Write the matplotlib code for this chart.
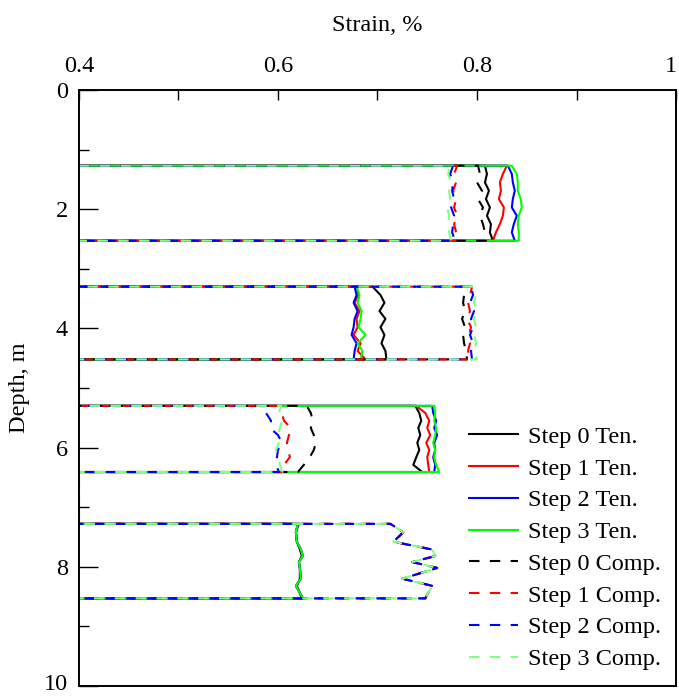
import numpy as np
import matplotlib
matplotlib.use("Agg")
import matplotlib.pyplot as plt
from matplotlib.ticker import MultipleLocator
from matplotlib.transforms import ScaledTranslation

# -----------------------------------------------------------------------------
#
# Depth of the sensor readings in each of the four instrumented zones
#
# -----------------------------------------------------------------------------
seg_depths = [
    [1.27, 1.41, 1.55, 1.69, 1.83, 1.97, 2.11, 2.25, 2.39, 2.53],
    [3.30, 3.44, 3.57, 3.71, 3.84, 3.98, 4.11, 4.25, 4.38, 4.52],
    [5.30, 5.42, 5.55, 5.67, 5.79, 5.92, 6.04, 6.16, 6.29, 6.41],
    [7.28, 7.42, 7.58, 7.71, 7.82, 7.92, 8.02, 8.20, 8.32, 8.53],
]
base_strain = 0.4

# -----------------------------------------------------------------------------
#
# Strain readings (%) per zone, tension side
#
# -----------------------------------------------------------------------------
ten_step0 = [
    [0.808, 0.810, 0.808, 0.812, 0.809, 0.813, 0.810, 0.814, 0.813, 0.816],
    [0.695, 0.703, 0.707, 0.702, 0.708, 0.703, 0.707, 0.704, 0.708, 0.709],
    [0.738, 0.742, 0.744, 0.741, 0.743, 0.740, 0.742, 0.739, 0.736, 0.745],
    [0.621, 0.618, 0.619, 0.622, 0.624, 0.621, 0.622, 0.622, 0.619, 0.624],
]
ten_step1 = [
    [0.830, 0.826, 0.823, 0.824, 0.822, 0.827, 0.826, 0.823, 0.819, 0.816],
    [0.679, 0.681, 0.677, 0.682, 0.679, 0.680, 0.676, 0.683, 0.680, 0.688],
    [0.739, 0.748, 0.752, 0.750, 0.753, 0.749, 0.752, 0.750, 0.751, 0.752],
    [0.620, 0.618, 0.619, 0.623, 0.625, 0.621, 0.622, 0.623, 0.618, 0.625],
]
ten_step2 = [
    [0.831, 0.835, 0.836, 0.838, 0.836, 0.835, 0.840, 0.837, 0.835, 0.838],
    [0.677, 0.679, 0.676, 0.680, 0.677, 0.676, 0.674, 0.679, 0.677, 0.676],
    [0.755, 0.756, 0.759, 0.757, 0.760, 0.757, 0.758, 0.756, 0.758, 0.757],
    [0.620, 0.618, 0.619, 0.623, 0.625, 0.621, 0.622, 0.623, 0.618, 0.625],
]
ten_step3 = [
    [0.835, 0.840, 0.841, 0.841, 0.844, 0.845, 0.842, 0.841, 0.842, 0.842],
    [0.679, 0.682, 0.680, 0.684, 0.683, 0.681, 0.688, 0.680, 0.685, 0.683],
    [0.757, 0.758, 0.757, 0.759, 0.758, 0.756, 0.758, 0.757, 0.759, 0.762],
    [0.620, 0.618, 0.619, 0.623, 0.625, 0.621, 0.622, 0.623, 0.618, 0.625],
]

# -----------------------------------------------------------------------------
#
# Strain readings (%) per zone, compression side
#
# -----------------------------------------------------------------------------
comp_step0 = [
    [0.801, 0.803, 0.800, 0.805, 0.801, 0.806, 0.803, 0.806, 0.808, 0.809],
    [0.792, 0.787, 0.786, 0.788, 0.785, 0.788, 0.786, 0.787, 0.789, 0.790],
    [0.629, 0.633, 0.635, 0.633, 0.636, 0.638, 0.636, 0.632, 0.626, 0.620],
    [0.713, 0.726, 0.716, 0.755, 0.758, 0.735, 0.760, 0.725, 0.755, 0.748],
]
comp_step1 = [
    [0.780, 0.777, 0.779, 0.776, 0.779, 0.777, 0.780, 0.777, 0.779, 0.781],
    [0.795, 0.793, 0.791, 0.793, 0.790, 0.794, 0.792, 0.793, 0.791, 0.794],
    [0.600, 0.604, 0.606, 0.613, 0.611, 0.609, 0.610, 0.612, 0.606, 0.607],
    [0.713, 0.726, 0.716, 0.755, 0.758, 0.735, 0.760, 0.725, 0.755, 0.748],
]
comp_step2 = [
    [0.776, 0.773, 0.776, 0.775, 0.777, 0.774, 0.777, 0.776, 0.775, 0.778],
    [0.794, 0.796, 0.793, 0.797, 0.794, 0.796, 0.793, 0.796, 0.794, 0.795],
    [0.590, 0.588, 0.593, 0.592, 0.600, 0.604, 0.600, 0.599, 0.598, 0.601],
    [0.713, 0.726, 0.716, 0.755, 0.758, 0.735, 0.760, 0.725, 0.755, 0.748],
]
comp_step3 = [
    [0.773, 0.771, 0.774, 0.772, 0.773, 0.770, 0.772, 0.771, 0.772, 0.774],
    [0.796, 0.799, 0.797, 0.800, 0.797, 0.799, 0.797, 0.799, 0.797, 0.800],
    [0.603, 0.601, 0.604, 0.602, 0.600, 0.601, 0.598, 0.600, 0.602, 0.604],
    [0.713, 0.726, 0.716, 0.755, 0.758, 0.735, 0.760, 0.725, 0.755, 0.748],
]

labels = ["Step 0 Ten.", "Step 1 Ten.", "Step 2 Ten.", "Step 3 Ten.",
          "Step 0 Comp.", "Step 1 Comp.", "Step 2 Comp.", "Step 3 Comp."]
series = [ten_step0, ten_step1, ten_step2, ten_step3,
          comp_step0, comp_step1, comp_step2, comp_step3]
colors = ["#000000", "#ff0000", "#0000ff", "#00ff00",
          "#000000", "#ff0000", "#0000ff", "#80ff80"]


def build_profile(zone_values):
    # each zone is drawn as a closed step away from the base strain
    xs, ys = [], []
    for depths, vals in zip(seg_depths, zone_values):
        xs += [base_strain] + list(vals) + [base_strain]
        ys += [depths[0]] + list(depths) + [depths[-1]]
    return np.array(xs), np.array(ys)


plt.rcParams['font.family'] = ['Liberation Serif', 'DejaVu Serif']

fig = plt.figure(figsize=(6.79, 6.96), dpi=100)
ax = fig.add_axes([0.1163, 0.0144, 0.8793, 0.8563])

for i, (vals, lab, col) in enumerate(zip(series, labels, colors)):
    x, y = build_profile(vals)
    ls = '-' if i < 4 else (0, (5, 5))
    ax.plot(x, y, color=col, lw=1.5, linestyle=ls, label=lab)

ax.set_xlim(0.4, 1.0)
ax.set_ylim(10, 0)
ax.xaxis.set_major_locator(MultipleLocator(0.2))
ax.xaxis.set_minor_locator(MultipleLocator(0.1))
ax.yaxis.set_major_locator(MultipleLocator(2))
ax.yaxis.set_minor_locator(MultipleLocator(1))
ax.xaxis.set_major_formatter(plt.FuncFormatter(lambda v, p: f"{v:g}"))

ax.xaxis.tick_top()
ax.xaxis.set_label_position('top')
ax.tick_params(axis='x', which='both', direction='in', length=7, width=1,
               labelsize=17.5, pad=9, top=True, bottom=False)
ax.tick_params(axis='y', which='major', direction='in', length=14, width=1,
               labelsize=17.5, pad=8, left=True, right=False)
ax.tick_params(axis='y', which='minor', direction='in', length=7, width=1,
               left=True, right=False)

for sp in ax.spines.values():
    sp.set_linewidth(1.4)

ax.set_xlabel("Strain, %", fontsize=17.5, labelpad=18)
ax.set_ylabel("Depth, m", fontsize=17.5, labelpad=10)

# nudge the edge labels ("1" on top, "10" at the bottom) inside the picture
fig.canvas.draw()
for tick in ax.xaxis.get_major_ticks():
    if abs(tick.get_loc() - 1.0) < 1e-6:
        tick.label2.set_transform(tick.label2.get_transform()
                                  + ScaledTranslation(-0.05, 0, fig.dpi_scale_trans))
for tick in ax.yaxis.get_major_ticks():
    if abs(tick.get_loc() - 10.0) < 1e-6:
        tick.label1.set_transform(tick.label1.get_transform()
                                  + ScaledTranslation(0, 0.04, fig.dpi_scale_trans))

ax.legend(loc='lower right', bbox_to_anchor=(1.012, -0.01), frameon=False,
          fontsize=17.5, handlelength=2.05, handletextpad=0.4,
          labelspacing=0.4)

fig.savefig("out.png", dpi=100)
